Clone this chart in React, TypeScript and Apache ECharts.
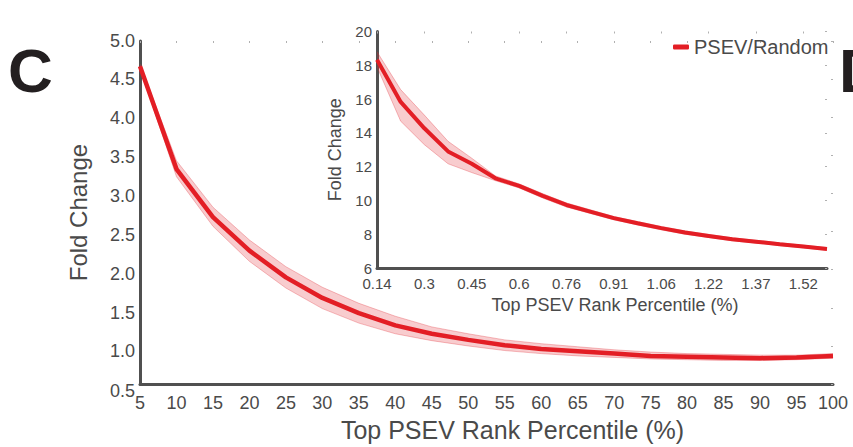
import React, { useEffect, useRef } from "react";
import * as echarts from "echarts";

// Main chart data
const mainCategories = ["5", "10", "15", "20", "25", "30", "35", "40", "45", "50", "55", "60", "65", "70", "75", "80", "85", "90", "95", "100"];
const mainValues = [4.67, 3.32, 2.69, 2.25, 1.9, 1.63, 1.43, 1.27, 1.16, 1.08, 1.01, 0.96, 0.93, 0.9, 0.87, 0.86, 0.85, 0.84, 0.85, 0.87];
const mainUpper = [4.7, 3.43, 2.82, 2.39, 2.04, 1.77, 1.56, 1.39, 1.25, 1.16, 1.08, 1.03, 0.99, 0.95, 0.92, 0.9, 0.89, 0.88, 0.88, 0.9];
const mainLower = [4.64, 3.22, 2.57, 2.11, 1.76, 1.49, 1.3, 1.16, 1.07, 1.0, 0.94, 0.9, 0.87, 0.85, 0.83, 0.82, 0.81, 0.81, 0.82, 0.84];

// Inset chart data
const insetCategories = ["0.14", "0.22", "0.3", "0.37", "0.45", "0.53", "0.6", "0.68", "0.76", "0.84", "0.91", "0.99", "1.06", "1.14", "1.22", "1.29", "1.37", "1.45", "1.52", "1.6"];
const insetValues = [18.33, 15.83, 14.27, 12.9, 12.17, 11.31, 10.86, 10.27, 9.73, 9.34, 8.95, 8.65, 8.36, 8.1, 7.9, 7.7, 7.56, 7.41, 7.27, 7.13];
const insetUpper = [18.8, 16.56, 15.05, 13.5, 12.5, 11.45, 10.98, 10.4, 9.85, 9.45, 9.05, 8.75, 8.46, 8.2, 7.99, 7.79, 7.64, 7.49, 7.35, 7.21];
const insetLower = [17.9, 14.69, 13.3, 12.17, 11.65, 11.17, 10.74, 10.14, 9.61, 9.23, 8.85, 8.55, 8.26, 8.0, 7.81, 7.61, 7.48, 7.33, 7.19, 7.05];

const seriesName = "PSEV/Random";
const axisTitle = "Top PSEV Rank Percentile (%)";
const yTitle = "Fold Change";

const FONT = '"Liberation Sans", Arial, sans-serif';
const RED = "#e31e25";
const BAND_FILL = "rgba(226, 40, 50, 0.24)";
const BAND_EDGE = "rgba(226, 40, 50, 0.3)";
const AXIS = "#505050";
const TEXT = "#4a4a4a";

function bandSeries(lower: number[], upper: number[], xi: number, yi: number, stack: string) {
  return [
    {
      type: "line",
      name: "band-lower-" + stack,
      xAxisIndex: xi,
      yAxisIndex: yi,
      stack,
      data: lower,
      symbol: "none",
      silent: true,
      lineStyle: { color: BAND_EDGE, width: 1 },
      z: 2,
    },
    {
      type: "line",
      name: "band-width-" + stack,
      xAxisIndex: xi,
      yAxisIndex: yi,
      stack,
      data: upper.map((u, i) => +(u - lower[i]).toFixed(4)),
      symbol: "none",
      silent: true,
      lineStyle: { color: BAND_EDGE, width: 1 },
      areaStyle: { color: BAND_FILL, opacity: 1 },
      z: 2,
    },
  ];
}

// rich styles that nudge the main y labels slightly downward, growing toward the bottom
const yRich: Record<string, any> = {};
for (let i = 0; i <= 9; i++) {
  const d = Math.max(0, -1 + 0.83 * i);
  yRich["a" + i] = {
    fontSize: 18,
    color: TEXT,
    fontFamily: FONT,
    padding: [Math.round(2 * d), 0, 0, 0],
  };
}

export default function App() {
  const ref = useRef<HTMLDivElement>(null);

  useEffect(() => {
    if (!ref.current) return;
    const chart = echarts.init(ref.current, undefined, { renderer: "svg" });
    const tickOnly = (color: string) => ({
      axisLine: { show: false },
      axisTick: { show: true, inside: true, length: 2, lineStyle: { color, width: 1 } },
      axisLabel: { show: false },
      splitLine: { show: false },
    });
    chart.setOption({
      animation: false,
      backgroundColor: "#ffffff",
      textStyle: { fontFamily: FONT },
      grid: [
        { left: 140, top: 41, width: 693, height: 348 },
        { left: 377, top: 31.5, width: 450, height: 236.5 },
      ],
      legend: {
        data: [seriesName],
        left: 673,
        top: 37,
        padding: 0,
        icon: "roundRect",
        itemWidth: 16,
        itemHeight: 5,
        textStyle: { fontSize: 20, color: TEXT, fontFamily: FONT },
      },
      xAxis: [
        {
          type: "category",
          gridIndex: 0,
          data: mainCategories,
          boundaryGap: false,
          name: axisTitle,
          nameLocation: "middle",
          nameGap: 30,
          nameTextStyle: { fontSize: 25, color: TEXT, fontFamily: FONT, padding: [0, 0, 0, 52] },
          axisLine: { show: true, lineStyle: { color: AXIS, width: 3 } },
          axisTick: { show: false },
          axisLabel: { interval: 0, fontSize: 18, color: TEXT, margin: 10, fontFamily: FONT },
          splitLine: { show: false },
        },
        {
          type: "category",
          gridIndex: 0,
          position: "top",
          data: mainCategories,
          boundaryGap: false,
          ...tickOnly("#b0b0b0"),
        },
        {
          type: "category",
          gridIndex: 1,
          data: insetCategories,
          boundaryGap: false,
          name: axisTitle,
          nameLocation: "middle",
          nameGap: 21,
          nameTextStyle: { fontSize: 18, color: TEXT, fontFamily: FONT, padding: [0, 0, 0, 26] },
          axisLine: { show: true, lineStyle: { color: AXIS, width: 3 } },
          axisTick: { show: false },
          axisLabel: { interval: 1, fontSize: 15, lineHeight: 15, color: TEXT, margin: 8, fontFamily: FONT },
          splitLine: { show: false },
        },
        {
          type: "category",
          gridIndex: 1,
          position: "top",
          data: insetCategories,
          boundaryGap: false,
          ...tickOnly("#b0b0b0"),
        },
      ],
      yAxis: [
        {
          type: "value",
          gridIndex: 0,
          min: 0.5,
          max: 5.0,
          interval: 0.5,
          name: yTitle,
          nameLocation: "middle",
          nameGap: 50,
          nameTextStyle: { fontSize: 24, color: TEXT, fontFamily: FONT },
          axisLine: { show: true, lineStyle: { color: AXIS, width: 3 } },
          axisTick: { show: false },
          axisLabel: {
            fontSize: 18,
            color: TEXT,
            margin: 5,
            fontFamily: FONT,
            formatter: (v: number) => {
              const i = Math.round((5 - v) / 0.5);
              return `{a${i}|${v.toFixed(1)}}`;
            },
            rich: yRich,
          },
          splitLine: { show: false },
        },
        {
          type: "value",
          gridIndex: 0,
          position: "right",
          min: 0.5,
          max: 5.0,
          interval: 0.5,
          ...tickOnly("#b0b0b0"),
        },
        {
          type: "value",
          gridIndex: 1,
          min: 6,
          max: 20,
          interval: 2,
          name: yTitle,
          nameLocation: "middle",
          nameGap: 32,
          nameTextStyle: { fontSize: 18, color: TEXT, fontFamily: FONT },
          axisLine: { show: true, lineStyle: { color: AXIS, width: 3 } },
          axisTick: { show: false },
          axisLabel: { fontSize: 15, lineHeight: 12, color: TEXT, margin: 5, fontFamily: FONT },
          splitLine: { show: false },
        },
        {
          type: "value",
          gridIndex: 1,
          position: "right",
          min: 6,
          max: 20,
          interval: 2,
          ...tickOnly("#b0b0b0"),
        },
      ],
      graphic: [
        {
          type: "text",
          x: 8,
          y: 70,
          style: { text: "C", font: `bold 62px ${FONT}`, fill: "#231f20", textVerticalAlign: "middle" },
        },
        {
          type: "text",
          x: 839,
          y: 70,
          style: { text: "D", font: `bold 62px ${FONT}`, fill: "#231f20", textVerticalAlign: "middle" },
        },
      ],
      series: [
        ...bandSeries(mainLower, mainUpper, 0, 0, "mainBand"),
        {
          type: "line",
          name: seriesName,
          xAxisIndex: 0,
          yAxisIndex: 0,
          data: mainValues,
          symbol: "none",
          color: RED,
          lineStyle: { color: RED, width: 4.5 },
          z: 3,
        },
        ...bandSeries(insetLower, insetUpper, 2, 2, "insetBand"),
        {
          type: "line",
          name: seriesName,
          xAxisIndex: 2,
          yAxisIndex: 2,
          data: insetValues,
          symbol: "none",
          color: RED,
          lineStyle: { color: RED, width: 4 },
          z: 3,
        },
      ],
    });
    return () => chart.dispose();
  }, []);

  return (
    <div
      ref={ref}
      style={{ position: "fixed", left: 0, top: 0, width: 853, height: 447, background: "#fff" }}
    />
  );
}
